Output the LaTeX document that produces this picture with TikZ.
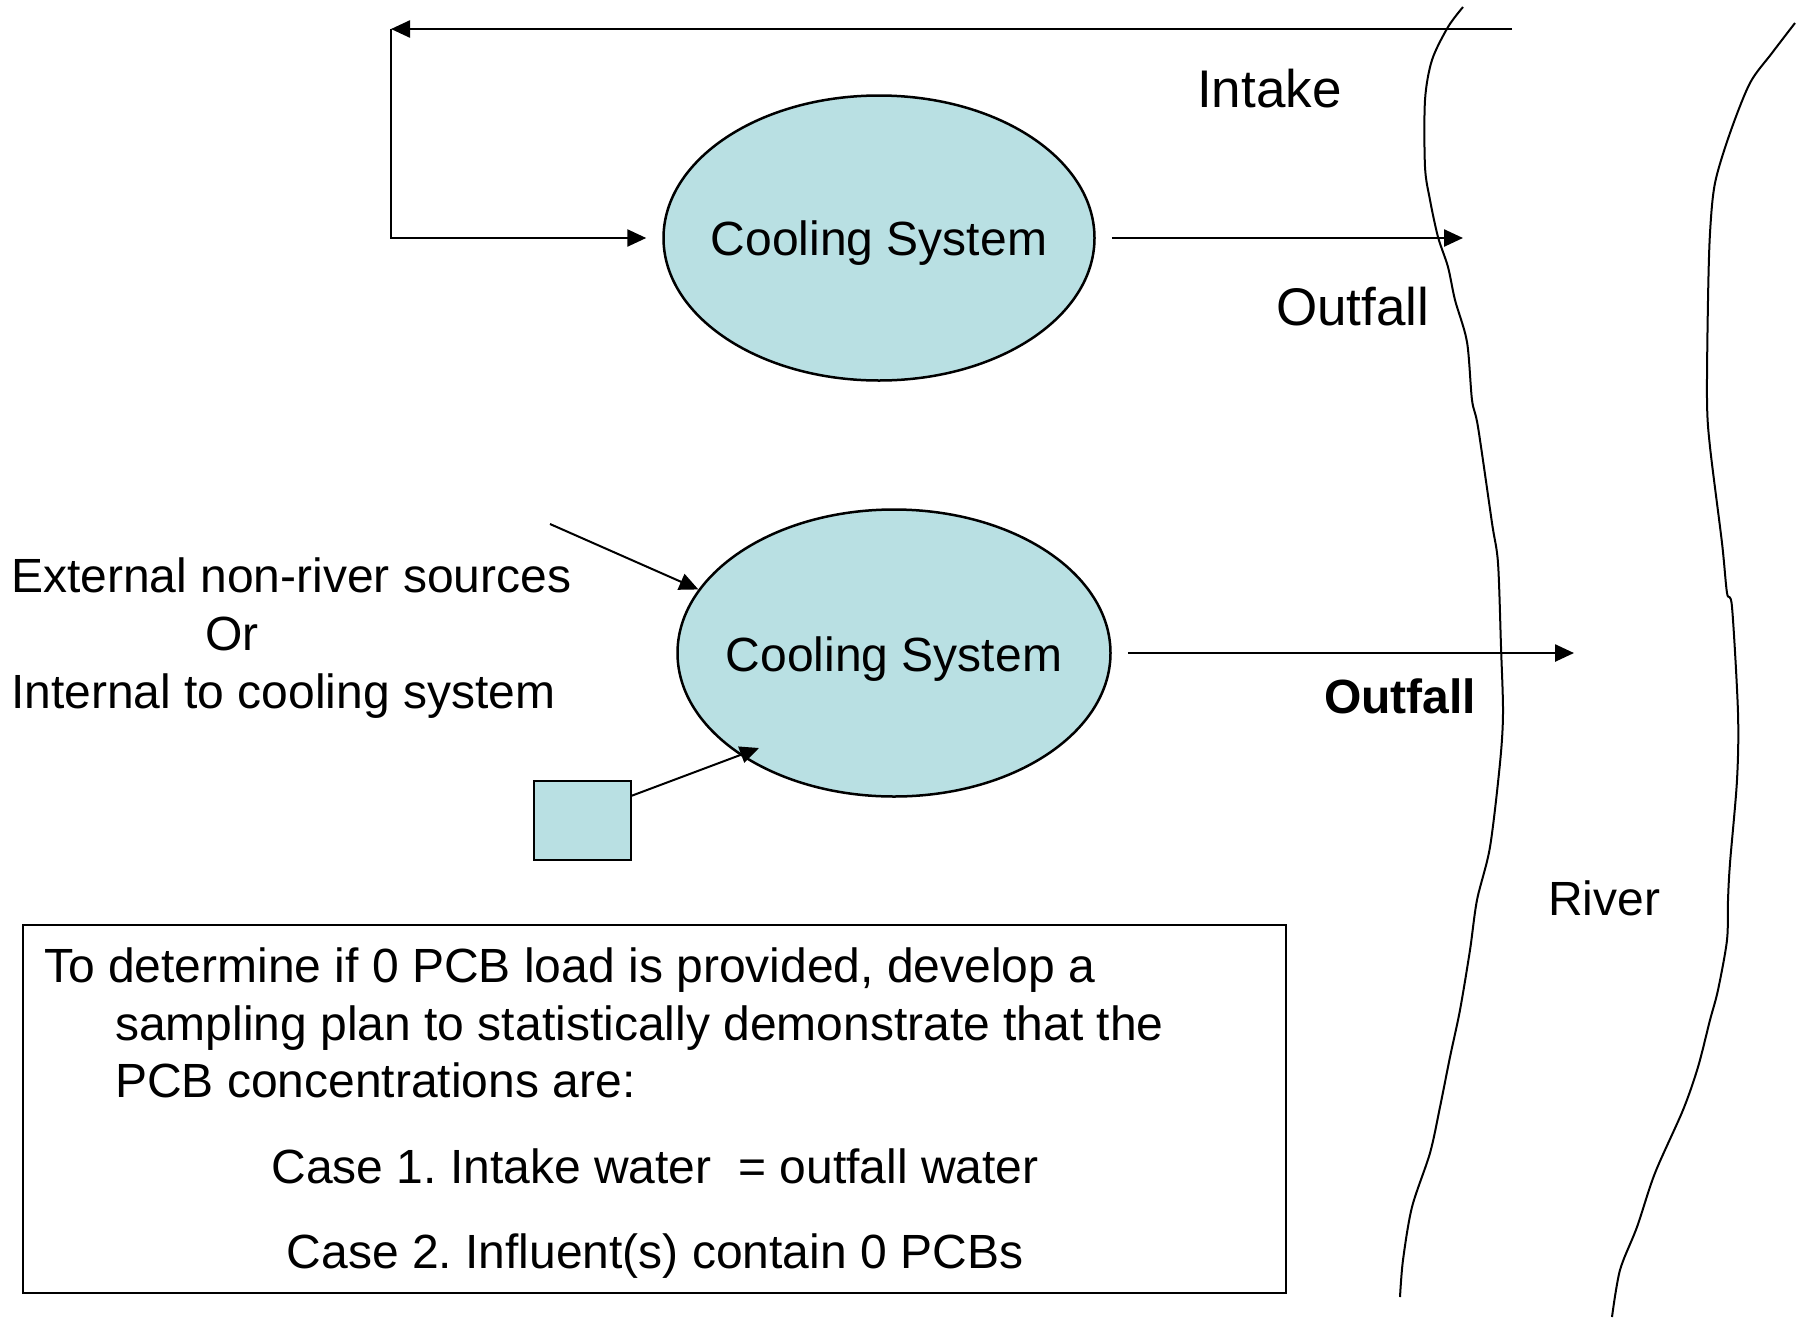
\documentclass[tikz,border=0pt]{standalone}
\usepackage{fontspec}
\setmainfont{Liberation Sans}
\usetikzlibrary{shapes.geometric,arrows.meta}
\definecolor{csfill}{RGB}{185,224,227}
\frenchspacing
\begin{document}
\begin{tikzpicture}[x=1pt,y=-1pt,
  arr/.style={line width=2.5pt,-{Triangle[length=19pt,width=17pt]}},
  cool/.style={ellipse,draw,line width=2.5pt,fill=csfill,inner sep=0pt},
  lbl/.style={inner sep=0pt,anchor=base west},
  clbl/.style={inner sep=0pt,anchor=base},
  bank/.style={line width=2pt},
  every node/.style={font=\fontsize{48}{58}\selectfont}]
\useasboundingbox (0,0) rectangle (1802,1318);

% river banks
\draw[bank] plot[smooth,tension=0.5] coordinates {(1463,7) (1448,27) (1432,60) (1425,100) (1425,167) (1430,200) (1438,237) (1448,267) (1455,300) (1467,342) (1472,400) (1478,427) (1492,523) (1498,563) (1501,647) (1503,713) (1500,763) (1490,847) (1477,900) (1470,950) (1460,1010) (1450,1057) (1440,1107) (1430,1153) (1412,1207) (1403,1260) (1400,1297)};
\draw[bank] plot[smooth,tension=0.5] coordinates {(1795,23) (1772,53) (1750,83) (1730,133) (1715,183) (1710,233) (1708,300) (1707,400) (1710,447) (1722,543) (1727,593) (1732,607) (1738,713) (1737,780) (1730,863) (1728,900) (1727,940) (1718,990) (1710,1020) (1698,1067) (1683,1110) (1655,1173) (1637,1227) (1620,1270) (1612,1317)};

% nodes
\node[cool,minimum width=431pt,minimum height=285pt] (cs1) at (879,238) {};
\node[cool,minimum width=433pt,minimum height=287pt] (cs2) at (894,653) {};
\node[clbl] (cs1t) at (879,255) {Cooling System};
\node[clbl] (cs2t) at (894,671) {Cooling System};
\node[draw,line width=2pt,fill=csfill,minimum width=97pt,minimum height=79pt,inner sep=0pt] (sq) at (582.5,820.5) {};
\node[draw,line width=2pt,minimum width=1263pt,minimum height=368pt,inner sep=0pt] (box) at (654.5,1109) {};

% coordinates
\coordinate (intake) at (1512,29);
\coordinate (corner) at (391,29);
\coordinate (out1) at (1463,238);
\coordinate (out2) at (1574,653);
\coordinate (ext) at (550,524);
\coordinate (sqout) at (631,796);
\coordinate (sqtip) at (759,748);

% connectors
\draw[arr] (intake) -- (corner);
\draw[arr,shorten >=16pt] (corner) |- (cs1.west);
\draw[arr,shorten <=16pt] (cs1.east) -- (out1);
\draw[arr,shorten <=16pt] (cs2.east) -- (out2);
\draw[arr,line width=2pt] (ext) -- (cs2.162);
\draw[arr,line width=2pt] (sqout) -- (sqtip);

% labels
\node[lbl,font=\fontsize{53}{60}\selectfont] (lintake) at (1197,107) {Intake};
\node[lbl,font=\fontsize{53}{60}\selectfont] (lout1) at (1276,325) {Outfall};
\node[lbl,font=\fontsize{48}{58}\selectfont\bfseries] (lout2) at (1324,713) {Outfall};
\node[lbl] (lriver) at (1548,915) {River};
\node[lbl] (lext) at (11,592) {External non-river sources};
\node[lbl] (lor) at (205,650) {Or};
\node[lbl] (lint) at (11,708) {Internal to cooling system};

% box text
\node[lbl] (t1) at (44,982) {To determine if 0 PCB load is provided, develop a};
\node[lbl] (t2) at (115,1040) {sampling plan to statistically demonstrate that the};
\node[lbl] (t3) at (115,1097) {PCB concentrations are:};
\node[clbl] (t4) at (655,1183) {Case 1. Intake water\ \ = outfall water};
\node[clbl] (t5) at (655,1268) {Case 2. Influent(s) contain 0 PCBs};
\end{tikzpicture}
\end{document}
